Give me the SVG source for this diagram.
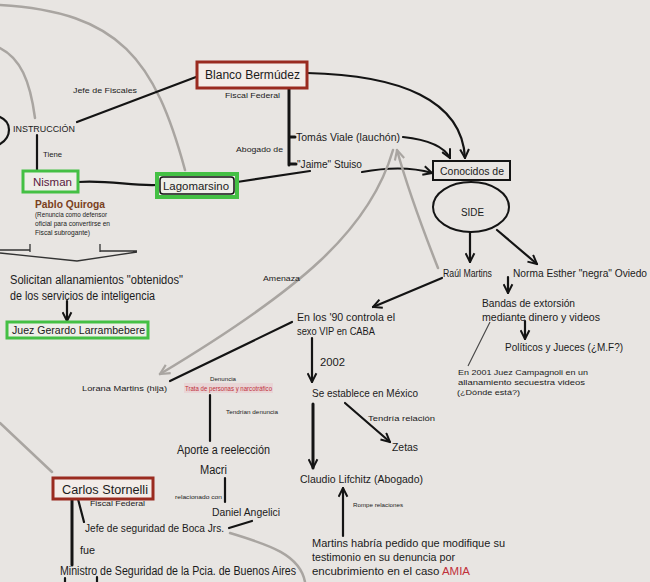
<svg xmlns="http://www.w3.org/2000/svg" width="650" height="582" viewBox="0 0 650 582">
<defs>
<style>
text{font-family:"Liberation Sans",Arial,sans-serif;fill:#1b1b1b;dominant-baseline:central}
text.b{dominant-baseline:auto}
.k{fill:none;stroke:#141414;stroke-width:2.2;stroke-linecap:round}
.g{fill:none;stroke:#a9a5a1;stroke-width:2.5;stroke-linecap:round}
.t{fill:none;stroke:#444;stroke-width:1.1}
.red{fill:#f3ece8;stroke:#9a2b20;stroke-width:3}
.grn{fill:#eeeee8;stroke:#44c044;stroke-width:3}
</style>
<marker id="ab" viewBox="0 0 10 10" refX="9" refY="5" markerWidth="11" markerHeight="11" markerUnits="userSpaceOnUse" orient="auto"><path d="M1,1 L9,5 L1,9" fill="none" stroke="#141414" stroke-width="1.8"/></marker>
<marker id="ag" viewBox="0 0 10 10" refX="9" refY="5" markerWidth="12" markerHeight="12" markerUnits="userSpaceOnUse" orient="auto"><path d="M1,1 L9,5 L1,9" fill="none" stroke="#a9a5a1" stroke-width="1.8"/></marker>
</defs>
<rect width="650" height="582" fill="#e8e5e2"/>
<g id="connectors">
<path class="g" d="M0,5 C120,12 155,60 185,170"/>
<path class="g" d="M0,48 C20,58 30,80 35,118"/>
<path class="k" d="M0,117 C12,122 12,137 0,144"/>
<path class="k" d="M77,122 L196,77"/>
<path class="k" d="M37,135 L37,172"/>
<path class="k" d="M78,182 C110,180 130,186 157,185"/>
<path class="k" d="M237,182 L310,171"/>
<path class="k" d="M289,88 L289,165 M289,137 L295,137 M289,164 L296,164" style="stroke-width:3"/>
<path class="k" d="M307,73 C400,75 462,100 465,158" marker-end="url(#ab)"/>
<path class="k" d="M403,137 C430,140 445,148 450,158" marker-end="url(#ab)"/>
<path class="k" d="M362,172 C395,166 415,168 432,173" marker-end="url(#ab)"/>
<path class="g" d="M393,150 C370,230 300,290 160,374" marker-end="url(#ag)"/>
<path class="g" d="M438,268 C425,235 408,190 397,150" marker-end="url(#ag)"/>
<path class="k" d="M470,232 L470,262" marker-end="url(#ab)"/>
<path class="k" d="M497,230 L537,264" marker-end="url(#ab)"/>
<path class="k" d="M508,277 L508,293" marker-end="url(#ab)"/>
<path class="k" d="M525,321 L525,339" marker-end="url(#ab)"/>
<path class="t" d="M490,322 L468,366"/>
<path class="k" d="M442,278 L373,307" marker-end="url(#ab)"/>
<path class="k" d="M292,322 L170,381"/>
<path class="k" d="M312,338 L312,382" marker-end="url(#ab)"/>
<path class="k" d="M345,403 L390,442" marker-end="url(#ab)"/>
<path class="k" d="M313,404 L313,468" marker-end="url(#ab)" style="stroke-width:3"/>
<path class="k" d="M343,536 L343,488" marker-end="url(#ab)"/>
<path class="k" d="M210,395 L210,441"/>
<path class="k" d="M225,478 L225,502"/>
<path class="k" d="M252,521 L229,528"/>
<path class="k" d="M78,499 L84,522"/>
<path class="k" d="M72,499 L72,565" style="stroke-width:3"/>
<path class="k" d="M65,578 L65,582 M97,577 L97,582"/>
<path class="g" d="M0,423 L52,472"/>
<path class="g" d="M230,533 C270,545 300,555 305,582"/>
<path class="k" d="M67,301 L67,321" marker-end="url(#ab)"/>
<path class="t" d="M0,250 L30,250 M30,244 L30,252 M100,244 L100,252 M100,251 L137,251 M0,253 L77,261 L137,252" style="stroke:#333;stroke-width:1.3"/>
</g>
<g id="instruccion"><text x="13" y="128" font-size="9.5" textLength="62" lengthAdjust="spacingAndGlyphs">INSTRUCCIÓN</text></g>
<g id="lbl-jefe-fiscales"><text x="73" y="90" font-size="8" textLength="64" lengthAdjust="spacingAndGlyphs">Jefe de Fiscales</text></g>
<g id="lbl-tiene"><text x="43" y="154" font-size="7" textLength="19" lengthAdjust="spacingAndGlyphs">Tiene</text></g>
<g id="blanco"><rect class="red" x="197" y="62" width="110" height="26"/><text x="205" y="75" font-size="12" textLength="95" lengthAdjust="spacingAndGlyphs">Blanco Bermúdez</text><text x="225" y="95" font-size="8" textLength="55" lengthAdjust="spacingAndGlyphs">Fiscal Federal</text></g>
<g id="lbl-abogado"><text x="236" y="149" font-size="8" textLength="47" lengthAdjust="spacingAndGlyphs">Abogado de</text></g>
<g id="viale"><text x="296" y="137" font-size="11" textLength="104" lengthAdjust="spacingAndGlyphs">Tomás Viale (lauchón)</text></g>
<g id="stuiso"><text x="297" y="164" font-size="10" textLength="65" lengthAdjust="spacingAndGlyphs">"Jaime" Stuiso</text></g>
<g id="nisman"><rect class="grn" x="23" y="171" width="55" height="21"/><text x="33" y="182" font-size="10" style="fill:#5a2040" textLength="39" lengthAdjust="spacingAndGlyphs">Nisman</text></g>
<g id="lagomarsino"><rect class="grn" x="157" y="174" width="80" height="23" style="stroke-width:4"/><rect x="160" y="177" width="74" height="17" rx="3" fill="none" stroke="#111" stroke-width="1.5"/><text x="163" y="186" font-size="11" textLength="66" lengthAdjust="spacingAndGlyphs">Lagomarsino</text></g>
<g id="conocidos"><rect x="433" y="161" width="77" height="19" fill="none" stroke="#141414" stroke-width="2"/><text x="440" y="171" font-size="10" textLength="64" lengthAdjust="spacingAndGlyphs">Conocidos de</text></g>
<g id="side"><ellipse cx="471" cy="207" rx="38" ry="25" fill="none" stroke="#141414" stroke-width="2"/><text x="461" y="212" font-size="10" textLength="23" lengthAdjust="spacingAndGlyphs">SIDE</text></g>
<g id="quiroga"><text x="35" y="204" font-size="11" font-weight="bold" style="fill:#7a4020" textLength="70" lengthAdjust="spacingAndGlyphs">Pablo Quiroga</text>
<text x="35" y="214" font-size="6.5" textLength="72" lengthAdjust="spacingAndGlyphs">(Renuncia como defensor</text>
<text x="35" y="223" font-size="6.5" textLength="75" lengthAdjust="spacingAndGlyphs">oficial para convertirse en</text>
<text x="35" y="232" font-size="6.5" textLength="55" lengthAdjust="spacingAndGlyphs">Fiscal subrogante)</text></g>
<g id="solicitan"><text x="10" y="280" font-size="12" textLength="173" lengthAdjust="spacingAndGlyphs">Solicitan allanamientos "obtenidos"</text><text x="10" y="296" font-size="12" textLength="145" lengthAdjust="spacingAndGlyphs">de los servicios de inteligencia</text></g>
<g id="juez"><rect class="grn" x="7" y="322" width="141" height="16"/><text x="12" y="330" font-size="11" textLength="133" lengthAdjust="spacingAndGlyphs">Juez Gerardo Larrambebere</text></g>
<g id="lbl-amenaza"><text x="263" y="278" font-size="7" textLength="37" lengthAdjust="spacingAndGlyphs">Amenaza</text></g>
<g id="raul"><text x="443" y="273" font-size="10" textLength="49" lengthAdjust="spacingAndGlyphs">Raúl Martins</text></g>
<g id="norma"><text x="513" y="273" font-size="10" textLength="134" lengthAdjust="spacingAndGlyphs">Norma Esther "negra" Oviedo</text></g>
<g id="bandas"><text x="482" y="303" font-size="11" textLength="93" lengthAdjust="spacingAndGlyphs">Bandas de extorsión</text><text x="482" y="317" font-size="11" textLength="118" lengthAdjust="spacingAndGlyphs">mediante dinero y videos</text></g>
<g id="politicos"><text x="505" y="347" font-size="11" textLength="118" lengthAdjust="spacingAndGlyphs">Políticos y Jueces (¿M.F?)</text></g>
<g id="campagnoli"><text x="458" y="372" font-size="8" textLength="130" lengthAdjust="spacingAndGlyphs">En 2001 Juez Campagnoli en un</text><text x="458" y="382" font-size="8" textLength="127" lengthAdjust="spacingAndGlyphs">allanamiento secuestra videos</text><text x="457" y="392" font-size="8" textLength="63" lengthAdjust="spacingAndGlyphs">(¿Dónde está?)</text></g>
<g id="en90"><text x="297" y="317" font-size="11" textLength="98" lengthAdjust="spacingAndGlyphs">En los '90 controla el</text><text x="297" y="331" font-size="11" textLength="78" lengthAdjust="spacingAndGlyphs">sexo VIP en CABA</text></g>
<g id="lbl-2002"><text x="320" y="362" font-size="10" textLength="25" lengthAdjust="spacingAndGlyphs">2002</text></g>
<g id="mexico"><text x="312" y="393" font-size="11" textLength="106" lengthAdjust="spacingAndGlyphs">Se establece en México</text></g>
<g id="lbl-tendria"><text x="368" y="418" font-size="8" textLength="67" lengthAdjust="spacingAndGlyphs">Tendría relación</text></g>
<g id="zetas"><text x="392" y="447" font-size="10" textLength="26" lengthAdjust="spacingAndGlyphs">Zetas</text></g>
<g id="claudio"><text x="300" y="479" font-size="11" textLength="123" lengthAdjust="spacingAndGlyphs">Claudio Lifchitz (Abogado)</text></g>
<g id="lbl-rompe"><text x="353" y="505" font-size="6" textLength="50" lengthAdjust="spacingAndGlyphs">Rompe relaciones</text></g>
<g id="martins-pedido"><text class="b" x="312" y="547" font-size="11" textLength="193" lengthAdjust="spacingAndGlyphs">Martins habría pedido que modifique su</text><text class="b" x="312" y="561" font-size="11" textLength="143" lengthAdjust="spacingAndGlyphs">testimonio en su denuncia por</text><text class="b" x="312" y="575" font-size="11" textLength="158" lengthAdjust="spacingAndGlyphs">encubrimiento en el caso <tspan style="fill:#c0303a">AMIA</tspan></text></g>
<g id="lorana"><text x="82" y="388" font-size="8" textLength="85" lengthAdjust="spacingAndGlyphs">Lorana Martins (hija)</text></g>
<g id="lbl-denuncia"><text x="210" y="379" font-size="6" textLength="26" lengthAdjust="spacingAndGlyphs">Denuncia</text></g>
<g id="trata"><rect x="184" y="383" width="89" height="10" fill="#e9c9cf" opacity="0.6"/><text x="185" y="388" font-size="7" style="fill:#c0303a" textLength="87" lengthAdjust="spacingAndGlyphs">Trata de personas y narcotráfico</text></g>
<g id="lbl-tendrian"><text x="226" y="412" font-size="6" textLength="52" lengthAdjust="spacingAndGlyphs">Tendrían denuncia</text></g>
<g id="aporte"><text x="177" y="450" font-size="12" textLength="93" lengthAdjust="spacingAndGlyphs">Aporte a reelección</text></g>
<g id="macri"><text x="200" y="470" font-size="12" textLength="27" lengthAdjust="spacingAndGlyphs">Macri</text></g>
<g id="lbl-relacionado"><text x="175" y="497" font-size="5.5" textLength="47" lengthAdjust="spacingAndGlyphs">relacionado con</text></g>
<g id="angelici"><text x="212" y="512" font-size="11" textLength="68" lengthAdjust="spacingAndGlyphs">Daniel Angelici</text></g>
<g id="jefe-boca"><text x="85" y="528" font-size="11" textLength="139" lengthAdjust="spacingAndGlyphs">Jefe de seguridad de Boca Jrs.</text></g>
<g id="stornelli"><rect class="red" x="53" y="478" width="100" height="21"/><text x="62" y="490" font-size="12" textLength="86" lengthAdjust="spacingAndGlyphs">Carlos Stornelli</text><text x="90" y="503" font-size="8" textLength="55" lengthAdjust="spacingAndGlyphs">Fiscal Federal</text></g>
<g id="lbl-fue"><text x="80" y="550" font-size="10" textLength="15" lengthAdjust="spacingAndGlyphs">fue</text></g>
<g id="ministro"><text x="60" y="571" font-size="12" textLength="236" lengthAdjust="spacingAndGlyphs">Ministro de Seguridad de la Pcia. de Buenos Aires</text></g>
</svg>
